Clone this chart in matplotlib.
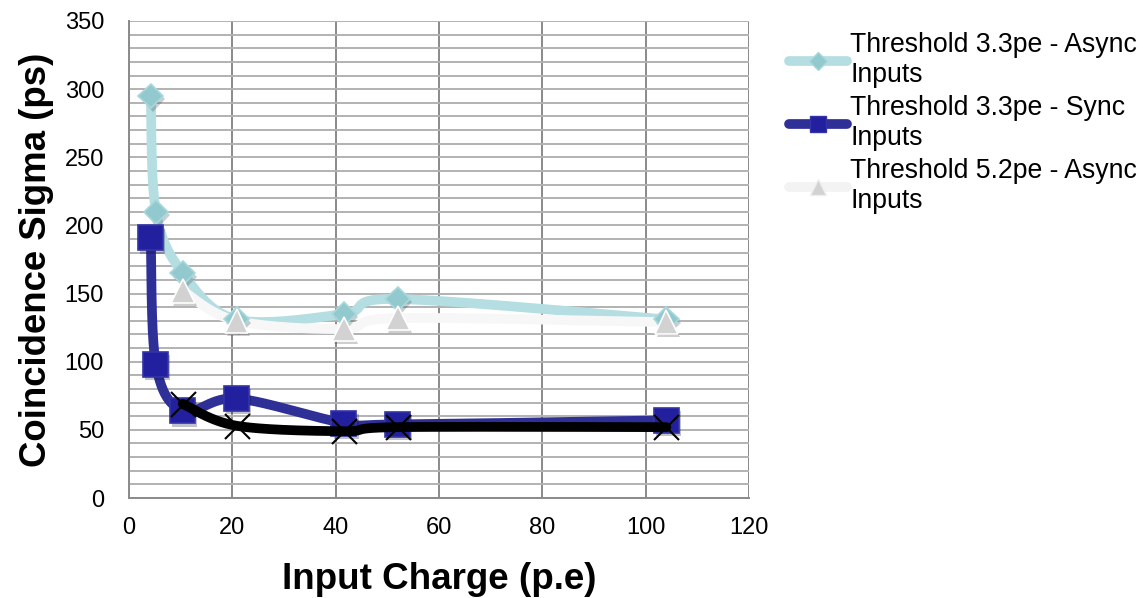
import numpy as np
import matplotlib
matplotlib.use("Agg")
import matplotlib.pyplot as plt
import matplotlib.patheffects as pe
from matplotlib.lines import Line2D

plt.rcParams['font.family'] = ['Liberation Sans', 'DejaVu Sans']

# Input charge (p.e) for each measurement
charge = [4.2, 5.2, 10.4, 20.8, 41.6, 52.0, 104.0]
charge_hi = [10.4, 20.8, 41.6, 52.0, 104.0]

# Coincidence sigma (ps)
async_33 = [295, 210, 165, 131, 135, 146, 131]
sync_33 = [191, 98, 64, 73, 55, 54, 57]
async_52 = [152, 130, 124, 132, 129]
sync_52 = [69, 53, 49, 52, 52]

labels = ["Threshold 3.3pe - Async\nInputs",
          "Threshold 3.3pe - Sync\nInputs",
          "Threshold 5.2pe - Async\nInputs"]

x_ticks = [0, 20, 40, 60, 80, 100, 120]
y_ticks = [0, 50, 100, 150, 200, 250, 300, 350]


def smooth(xs, ys, n=40):
    """Bezier smoothing through every point (Catmull-Rom style)."""
    p = np.column_stack([xs, ys]).astype(float)
    pts = [p[0]]
    m = len(p)
    for i in range(m - 1):
        p0 = p[i - 1] if i > 0 else p[i]
        p1, p2 = p[i], p[i + 1]
        p3 = p[i + 2] if i + 2 < m else p[i + 1]
        c1 = p1 + (p2 - p0) / 6.0
        c2 = p2 - (p3 - p1) / 6.0
        t = np.linspace(0, 1, n)[1:, None]
        seg = ((1 - t) ** 3 * p1 + 3 * (1 - t) ** 2 * t * c1
               + 3 * (1 - t) * t ** 2 * c2 + t ** 3 * p2)
        pts.extend(seg)
    pts = np.array(pts)
    return pts[:, 0], pts[:, 1]


fig = plt.figure(figsize=(11.43, 5.98), dpi=100)
ax = fig.add_axes([0.1129, 0.1672, 0.5424, 0.7977])

ax.set_xlim(0, 120)
ax.set_ylim(0, 350)
ax.set_xticks(x_ticks)
ax.set_yticks(y_ticks)
ax.set_yticks(np.arange(0, 351, 10), minor=True)
ax.tick_params(axis='both', which='both', length=0, labelsize=17)
ax.tick_params(axis='y', pad=18)
ax.tick_params(axis='x', pad=14)
ax.grid(axis='x', which='major', color='#8a8a8a', lw=1.4)
ax.grid(axis='y', which='both', color='#b2b2b2', lw=1.4)
ax.set_axisbelow(True)
for side in ('left', 'bottom'):
    ax.spines[side].set_color('#8a8a8a')
    ax.spines[side].set_linewidth(1.4)
for side in ('top', 'right'):
    ax.spines[side].set_visible(False)

shadow = [pe.SimplePatchShadow(offset=(1.5, -2.5), alpha=0.25), pe.Normal()]

series = [
    (charge, async_33, '#b4dee2', 'D', 12.5, '#92c9cf', '#a9d8dc', 7),
    (charge, sync_33, '#2f2f98', 's', 18, '#22209f', '#3434a8', 7),
    (charge_hi, async_52, '#f7f7f7', '^', 17, '#d2d2d2', '#ffffff', 7),
]
for xs, ys, lc, mk, ms, mfc, mec, lw in series:
    sx, sy = smooth(xs, ys)
    ax.plot(sx, sy, color=lc, lw=lw, solid_capstyle='round', zorder=3)
    ax.plot(xs, ys, ls='none', marker=mk, ms=ms, mfc=mfc, mec=mec,
            mew=1.2, zorder=4, path_effects=shadow)

sx, sy = smooth(charge_hi, sync_52)
ax.plot(sx, sy, color='black', lw=7, solid_capstyle='round', zorder=5)
ax.plot(charge_hi, sync_52, ls='none', marker='x', ms=18, mec='black',
        mew=1.5, zorder=6)

ax.set_xlabel("Input Charge (p.e)", fontsize=26.5, fontweight='bold', labelpad=16)
ax.set_ylabel("Coincidence Sigma (ps)", fontsize=26.4, fontweight='bold', labelpad=8)

handles = [
    Line2D([], [], color='#b4dee2', lw=7, solid_capstyle='round', marker='D',
           ms=9, mfc='#92c9cf', mec='#a9d8dc'),
    Line2D([], [], color='#2f2f98', lw=7, solid_capstyle='round', marker='s',
           ms=12, mfc='#22209f', mec='#3434a8'),
    Line2D([], [], color='#f3f3f3', lw=7, solid_capstyle='round', marker='^',
           ms=11, mfc='#d2d2d2', mec='#eeeeee'),
]
fig.legend(handles, labels, loc='upper left', bbox_to_anchor=(0.6806, 0.964),
           frameon=False, fontsize=19.2, handlelength=2.2, handletextpad=0.12,
           labelspacing=0.26, borderaxespad=0)

fig.savefig("out.png", dpi=100)
